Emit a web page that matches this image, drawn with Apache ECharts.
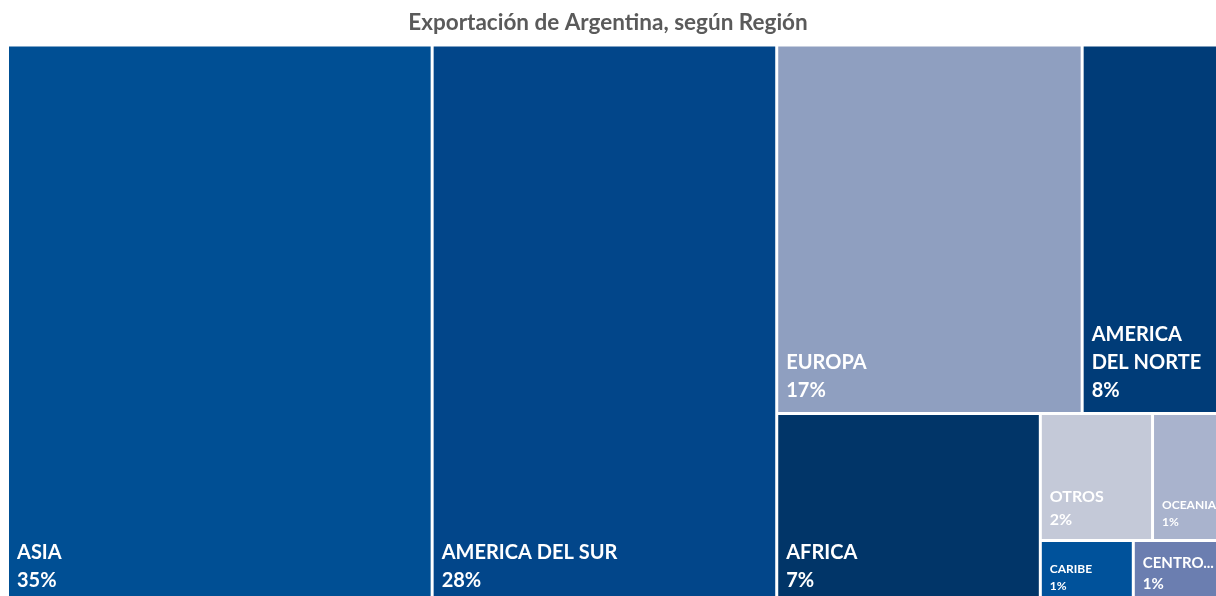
<!DOCTYPE html>
<html>
<head>
<meta charset="utf-8">
<title>Exportación de Argentina, según Región</title>
<script src="https://cdn.jsdelivr.net/npm/echarts@6/dist/echarts.min.js"></script>
<style>
  html, body { margin: 0; padding: 0; background: #fff; }
  #main { width: 1216px; height: 596px; }
</style>
</head>
<body>
<div id="main"></div>
<script>
// regiones y participación (%) en las exportaciones
const regions = ['ASIA', 'AMERICA DEL SUR', 'EUROPA', 'AMERICA DEL NORTE', 'AFRICA', 'OTROS', 'OCEANIA', 'CARIBE', 'CENTROAMERICA']
const shares = [35.0, 28.4, 16.6, 7.6, 7.4, 2.1, 1.3, 0.87, 0.83]

// estilos por región
const colors = ['#004f94', '#02468a', '#8f9fc0', '#003c78', '#013568', '#c4c9d8', '#a9b3cd', '#00529b', '#6b7eb0']
const fontSizes = [20, 20, 20, 20, 20, 16, 12, 12, 15]

const chart = echarts.init(document.getElementById('main'))

const data = regions.map((name, i) => {
  const size = fontSizes[i]
  const item = {
    name: name,
    value: shares[i],
    itemStyle: { color: colors[i] },
    label: { fontSize: size, lineHeight: Math.round(size * 1.42) }
  }
  // el nombre largo se parte en dos líneas
  if (name === 'AMERICA DEL NORTE') {
    item.label.overflow = 'break'
    item.label.padding = [0, 20, 0, 0]
  }
  // el último queda cortado con "..."
  if (name === 'CENTROAMERICA') {
    item.label.padding = [0, 8, 0, 0]
  }
  return item
})

const option = {
  title: {
    text: 'Exportación de Argentina, según Región',
    left: 'center',
    top: 6,
    textStyle: {
      fontFamily: 'Lato',
      fontSize: 22.5,
      fontWeight: 'bold',
      color: '#5a5a5a'
    }
  },
  series: [
    {
      type: 'treemap',
      left: 9,
      top: 46.5,
      width: 1211.5,
      height: 556,
      squareRatio: 1.25,
      roam: false,
      nodeClick: false,
      breadcrumb: { show: false },
      itemStyle: {
        borderWidth: 0,
        gapWidth: 3
      },
      label: {
        show: true,
        position: 'insideBottomLeft',
        distance: 8,
        padding: 0,
        color: '#fff',
        fontFamily: 'Lato',
        fontWeight: 'bold',
        overflow: 'truncate',
        ellipsis: '...',
        formatter: (p) => p.name + '\n' + Math.round(p.value) + '%'
      },
      emphasis: { disabled: true },
      data: data
    }
  ]
}

chart.setOption(option)
window.addEventListener('resize', () => chart.resize())
</script>
</body>
</html>
